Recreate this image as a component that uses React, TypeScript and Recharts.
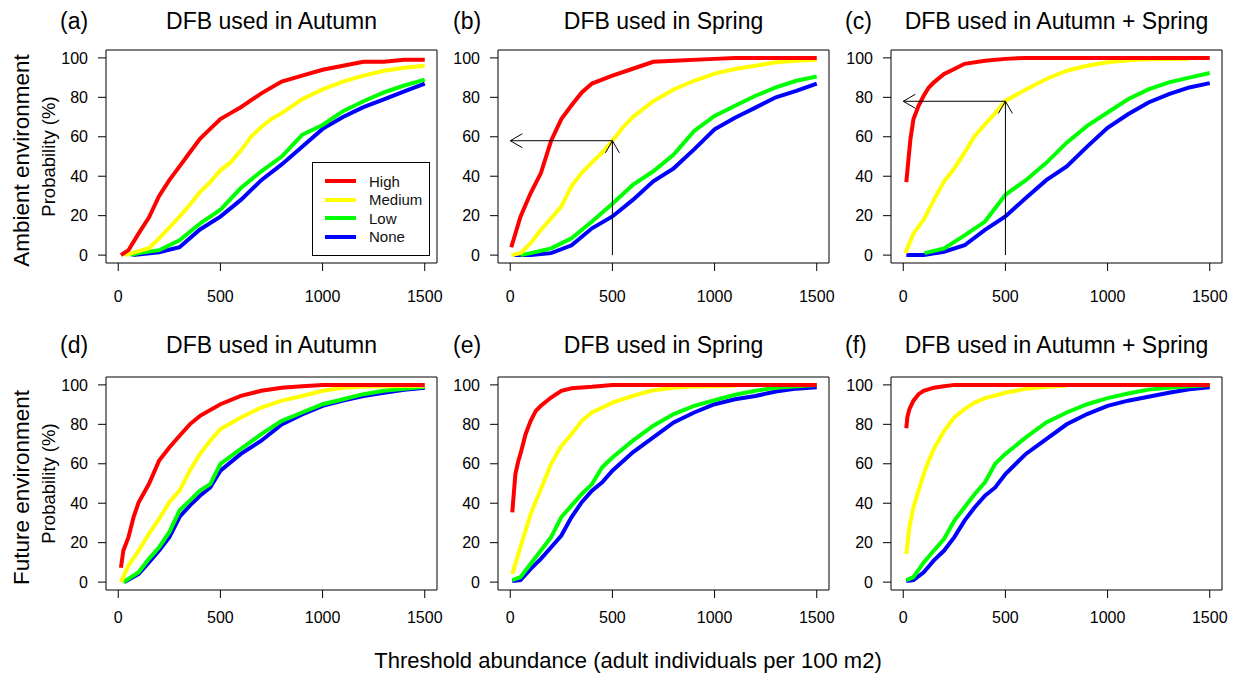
import React from "react";
import {
  LineChart,
  Line,
  XAxis,
  YAxis,
  ReferenceArea,
  ReferenceLine,
  Legend,
} from "recharts";

type Pair = [number, number];

// (a) ambient, autumn
const aHigh: Pair[] = [[13,0],[50,2.5],[100,11],[150,19],[200,30],[250,38],[300,45],[350,52],[400,59],[450,64],[500,69],[550,72],[600,75],[700,82],[800,88],[900,91],[1000,94],[1100,96],[1200,98],[1300,98],[1400,99],[1500,99]];
const aMedium: Pair[] = [[30,0],[100,2],[150,3.5],[200,8.5],[250,14],[300,19.5],[350,25.5],[400,32],[450,37],[500,43],[550,47],[600,53],[650,60],[700,65],[750,69],[800,72],[900,79],[1000,84],[1100,88],[1200,91],[1300,93.5],[1400,95],[1500,96]];
const aLow: Pair[] = [[60,0],[100,1],[200,2.5],[300,7.5],[400,16],[500,23],[600,34],[700,42.5],[800,50],[900,61],[1000,66],[1100,73],[1200,78],[1300,82.5],[1400,86],[1500,89]];
const aNone: Pair[] = [[72,0],[200,1.5],[300,4],[400,13],[500,19.5],[600,28],[700,38],[800,46],[900,55],[1000,64],[1100,70],[1200,75],[1300,79],[1400,83],[1500,87]];

// (b) ambient, spring
const bHigh: Pair[] = [[5,4],[50,19.5],[100,31.5],[150,41.6],[200,58],[250,69],[300,76],[350,82.5],[400,87],[500,91],[600,94.5],[700,98],[800,98.6],[1000,99.5],[1100,100],[1500,100]];
const bMedium: Pair[] = [[5,0],[50,1],[100,6],[150,12.8],[200,18.7],[250,24.7],[300,35],[350,41.7],[400,47],[450,52],[500,58],[550,64.6],[600,70],[700,78],[800,84],[900,88.4],[1000,92],[1100,94.4],[1200,96],[1300,97.8],[1400,98.6],[1500,99]];
const bLow: Pair[] = [[50,0],[100,1],[200,3.4],[300,8.5],[400,17],[500,26],[600,35.7],[700,42.5],[800,51],[900,63],[1000,70.6],[1100,75.7],[1200,80.8],[1300,85],[1400,88.4],[1500,90.6]];
const bNone: Pair[] = [[20,0],[100,0],[200,1],[300,5],[400,13.6],[500,19.6],[600,28],[700,37.4],[800,44],[900,53.6],[1000,63.8],[1100,69.7],[1200,74.8],[1300,80],[1400,83.3],[1500,87]];

// (c) ambient, autumn + spring
const cHigh: Pair[] = [[15,37],[25,48],[35,58.7],[50,69],[75,75.7],[100,80.8],[125,85],[150,87.6],[200,91.8],[250,94.4],[300,97],[400,98.6],[500,99.5],[600,100],[1500,100]];
const cMedium: Pair[] = [[10,1],[50,11],[100,17.9],[150,28],[200,37.4],[250,44],[300,52],[350,60.4],[400,66.3],[450,72],[500,78.2],[600,84],[700,89.3],[800,93.5],[900,96],[1000,97.8],[1100,98.8],[1200,99.3],[1400,99.6]];
const cLow: Pair[] = [[104,1],[200,3.4],[300,10],[400,17],[500,30.6],[600,38],[700,46.8],[800,57],[900,65.5],[1000,72.3],[1100,79],[1200,84],[1300,87.6],[1400,90],[1500,92.3]];
const cNone: Pair[] = [[15,0],[100,0],[200,1.7],[300,5],[400,12.8],[500,19.6],[600,29],[700,38],[800,45],[900,55],[1000,64.6],[1100,71.4],[1200,77.4],[1300,81.6],[1400,85],[1500,87.2]];

// (d) future, autumn
const dHigh: Pair[] = [[13,7.3],[25,16],[50,22.8],[75,33],[100,40.5],[150,49.7],[200,61.6],[250,68.3],[300,74.2],[350,80],[400,84.3],[500,90.2],[600,94.4],[700,97],[800,98.6],[900,99.3],[1000,100],[1500,100]];
const dMedium: Pair[] = [[13,0],[50,8.4],[100,16],[150,24.5],[200,32],[250,40.5],[300,46.4],[350,56.5],[400,65],[450,71.7],[500,77.6],[600,83.5],[700,88.5],[800,92],[900,94.4],[1000,97],[1100,98.6],[1200,99.2],[1500,99.6]];
const dLow: Pair[] = [[25,0],[100,5],[150,11.8],[200,17.7],[250,25.3],[300,36.3],[350,41.3],[400,46.4],[450,49.7],[500,60],[600,67.5],[700,75],[800,81.8],[900,86],[1000,90.2],[1100,92.7],[1200,95.3],[1300,97],[1400,98],[1500,99]];
const dNone: Pair[] = [[30,0],[100,4.2],[150,10],[200,16],[250,22.8],[300,33],[350,38.8],[400,43.8],[450,48],[500,56.5],[600,65],[700,71.7],[800,80],[900,85],[1000,89.4],[1100,92],[1200,94.4],[1300,96],[1400,97.5],[1500,98.6]];

// (e) future, spring
const eHigh: Pair[] = [[10,35.4],[25,54.8],[40,61.6],[50,65],[75,75],[100,81.8],[125,86.8],[150,89.4],[200,93.6],[250,97],[300,98.3],[400,99],[500,100],[1500,100]];
const eMedium: Pair[] = [[10,4.2],[50,17.7],[100,34.6],[150,47.2],[200,60],[250,69],[300,75],[350,81.8],[400,86],[500,91],[600,94.4],[700,97.3],[800,98.6],[900,99.2],[1100,99.6]];
const eLow: Pair[] = [[10,1],[50,2.5],[100,9.3],[150,16],[200,22.8],[250,33],[300,38.8],[350,44.7],[400,49.7],[450,58.2],[500,63.2],[600,71.7],[700,79.3],[800,85.2],[900,89.4],[1000,92.2],[1100,95],[1200,97],[1300,98.6],[1400,99.3],[1500,100]];
const eNone: Pair[] = [[10,0.5],[50,1],[100,6.7],[150,11.8],[200,17.7],[250,23.6],[300,33],[350,40.5],[400,46.4],[450,50.6],[500,56.5],[600,65.8],[700,73.4],[800,81],[900,86],[1000,90.2],[1100,92.7],[1200,94.4],[1300,96.6],[1400,98.1],[1500,98.8]];

// (f) future, autumn + spring
const fHigh: Pair[] = [[15,78],[20,83.5],[30,87.7],[50,92],[75,95.3],[100,97],[150,98.6],[200,99.3],[250,100],[1500,100]];
const fMedium: Pair[] = [[15,14.3],[30,27.8],[50,38],[75,46.4],[100,54.8],[125,61.6],[150,67.5],[200,76.7],[250,83.5],[300,87.7],[350,91],[400,93.3],[500,96],[600,98],[700,99],[800,99.5]];
const fLow: Pair[] = [[15,1],[50,2.5],[100,10],[150,16],[200,22],[250,31.2],[300,38],[350,44.7],[400,50.6],[450,60],[500,65],[600,73.4],[700,81],[800,86],[900,90.2],[1000,93.3],[1100,95.6],[1200,97.6],[1300,98.6],[1400,99.3],[1500,100]];
const fNone: Pair[] = [[15,0.5],[50,1],[100,5],[150,11],[200,16],[250,22.8],[300,31.2],[350,38],[400,43.8],[450,48],[500,54.8],[600,65],[700,72.5],[800,80],[900,85.2],[1000,89.4],[1100,92],[1200,94],[1300,96],[1400,97.8],[1500,98.8]];

const levels = ["High", "Medium", "Low", "None"];
const colors = ["#ff0000", "#ffff00", "#00ff00", "#0000ff"];
const xTicks = [0, 500, 1000, 1500];
const yTicks = [0, 20, 40, 60, 80, 100];

const FONT = '"Liberation Sans", Arial, Helvetica, sans-serif';
const BOX_W = 331;
const BOX_H = 213;
const Y_AXIS_W = 60;
const PAD = 4;
const RIGHT = 24;
const X_AXIS_H = 44;

const toPts = (arr: Pair[]) => arr.map(([x, y]) => ({ x, y }));

// line with an open arrow head at its end (x2, y2)
const ArrowShape = (props: any) => {
  const { x1, y1, x2, y2 } = props;
  const ang = Math.atan2(y2 - y1, x2 - x1);
  const len = 14;
  const spread = Math.PI / 6;
  const ax = x2 - len * Math.cos(ang - spread);
  const ay = y2 - len * Math.sin(ang - spread);
  const bx = x2 - len * Math.cos(ang + spread);
  const by = y2 - len * Math.sin(ang + spread);
  return (
    <g>
      <line x1={x1} y1={y1} x2={x2} y2={y2} stroke="#000" strokeWidth={1} />
      <path d={`M${ax},${ay} L${x2},${y2} L${bx},${by}`} fill="none" stroke="#000" strokeWidth={1} />
    </g>
  );
};

const LegendBox = () => (
  <div
    style={{
      width: 118,
      height: 94,
      border: "1px solid #000",
      boxSizing: "border-box",
      background: "#fff",
      fontFamily: FONT,
      fontSize: 15,
      color: "#111",
      paddingTop: 9,
    }}
  >
    {levels.map((name, i) => (
      <div key={name} style={{ display: "flex", alignItems: "center", height: 18.5 }}>
        <div style={{ width: 31, height: 4, background: colors[i], marginLeft: 12, marginRight: 13 }} />
        <span>{name}</span>
      </div>
    ))}
  </div>
);

type PanelProps = {
  left: number;
  top: number;
  series: Pair[][];
  labelGap: number;
  arrowAt?: { x: number; y: number };
  legend?: boolean;
};

const Panel = ({ left, top, series, labelGap, arrowAt, legend }: PanelProps) => {
  const order = [3, 2, 1, 0];
  return (
    <div style={{ position: "absolute", left: left - Y_AXIS_W, top: top - PAD }}>
      <LineChart
        width={Y_AXIS_W + BOX_W + RIGHT}
        height={PAD + BOX_H + X_AXIS_H}
        margin={{ top: PAD, right: RIGHT, left: 0, bottom: 0 }}
      >
        <XAxis
          type="number"
          dataKey="x"
          domain={[-60, 1560]}
          ticks={xTicks}
          allowDataOverflow
          axisLine={false}
          tickSize={8}
          tickMargin={labelGap}
          tickLine={{ stroke: "#000" }}
          tick={{ fill: "#000", fontSize: 16, fontFamily: FONT }}
          height={X_AXIS_H}
        />
        <YAxis
          type="number"
          dataKey="y"
          domain={[-4, 104]}
          ticks={yTicks}
          allowDataOverflow
          axisLine={false}
          tickSize={8}
          tickMargin={10}
          tickLine={{ stroke: "#000" }}
          tick={{ fill: "#000", fontSize: 16, fontFamily: FONT }}
          width={Y_AXIS_W}
        />
        <ReferenceArea x1={-60} x2={1560} y1={-4} y2={104} fill="none" stroke="#000" strokeWidth={1} />
        {order.map((i) => (
          <Line
            key={levels[i]}
            data={toPts(series[i])}
            dataKey="y"
            name={levels[i]}
            type="linear"
            stroke={colors[i]}
            strokeWidth={4}
            dot={false}
            activeDot={false}
            isAnimationActive={false}
          />
        ))}
        {arrowAt && (
          <ReferenceLine
            segment={[{ x: arrowAt.x, y: 0 }, { x: arrowAt.x, y: arrowAt.y }]}
            stroke="#000"
            ifOverflow="visible"
            shape={ArrowShape}
          />
        )}
        {arrowAt && (
          <ReferenceLine
            segment={[{ x: arrowAt.x, y: arrowAt.y }, { x: 0, y: arrowAt.y }]}
            stroke="#000"
            ifOverflow="visible"
            shape={ArrowShape}
          />
        )}
        {legend && (
          <Legend
            layout="vertical"
            align="center"
            verticalAlign="middle"
            wrapperStyle={{ left: 266, top: 116, width: 118, height: 94 }}
            content={() => <LegendBox />}
          />
        )}
      </LineChart>
    </div>
  );
};

const colLeft = [106, 498, 891];
const rowTop = [50, 377];
const rowLabelGap = [20, 14];
const tags = ["(a)", "(b)", "(c)", "(d)", "(e)", "(f)"];
const titles = ["DFB used in Autumn", "DFB used in Spring", "DFB used in Autumn + Spring"];
const tagLeft = [60, 453, 845];
const rowBaseline = [29, 353];
const rowNames = ["Ambient environment", "Future environment"];

export default function App() {
  const panels = [
    { series: [aHigh, aMedium, aLow, aNone], legend: true },
    { series: [bHigh, bMedium, bLow, bNone], arrowAt: { x: 500, y: 58 } },
    { series: [cHigh, cMedium, cLow, cNone], arrowAt: { x: 500, y: 78 } },
    { series: [dHigh, dMedium, dLow, dNone] },
    { series: [eHigh, eMedium, eLow, eNone] },
    { series: [fHigh, fMedium, fLow, fNone] },
  ];
  return (
    <div
      style={{
        position: "absolute",
        left: 0,
        top: 0,
        width: 1235,
        height: 674,
        background: "#fff",
        fontFamily: FONT,
      }}
    >
      <svg width={1235} height={674} style={{ position: "absolute", left: 0, top: 0 }}>
        {[0, 1].map((r) => (
          <g key={r} fontFamily={FONT} fill="#000">
            {[0, 1, 2].map((c) => (
              <g key={c}>
                <text x={tagLeft[c]} y={rowBaseline[r]} fontSize={23}>
                  {tags[r * 3 + c]}
                </text>
                <text x={colLeft[c] + BOX_W / 2} y={rowBaseline[r]} fontSize={23} textAnchor="middle">
                  {titles[c]}
                </text>
              </g>
            ))}
            <text
              transform={`translate(29, ${rowTop[r] + BOX_H / 2 + 4}) rotate(-90)`}
              textAnchor="middle"
              fontSize={22.5}
            >
              {rowNames[r]}
            </text>
            <text
              transform={`translate(55, ${rowTop[r] + BOX_H / 2}) rotate(-90)`}
              textAnchor="middle"
              fontSize={18.5}
            >
              Probability (%)
            </text>
          </g>
        ))}
        <text x={628} y={668} fontSize={22} textAnchor="middle" fontFamily={FONT} fill="#000">
          Threshold abundance (adult individuals per 100 m2)
        </text>
      </svg>
      {panels.map((p, i) => (
        <Panel
          key={i}
          left={colLeft[i % 3]}
          top={rowTop[Math.floor(i / 3)]}
          series={p.series}
          labelGap={rowLabelGap[Math.floor(i / 3)]}
          arrowAt={p.arrowAt}
          legend={p.legend}
        />
      ))}
    </div>
  );
}
